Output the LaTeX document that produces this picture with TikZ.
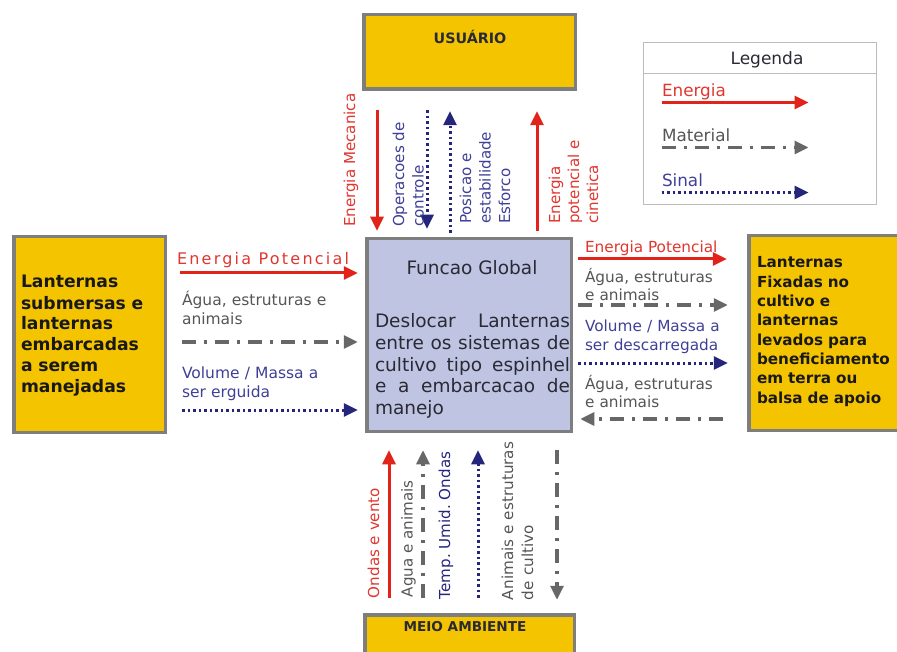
\documentclass[tikz,border=0pt]{standalone}
\usepackage{fontspec}
\setmainfont{DejaVu Sans}
\usetikzlibrary{arrows.meta}
\definecolor{ouro}{HTML}{F5C400}
\definecolor{boxgray}{HTML}{7E7E7E}
\definecolor{lav}{HTML}{BEC4E2}
\definecolor{enred}{HTML}{E2231A}
\definecolor{entxt}{HTML}{E0362F}
\definecolor{matgray}{HTML}{676767}
\definecolor{mattxt}{HTML}{555555}
\definecolor{sinnavy}{HTML}{25257C}
\definecolor{sintxt}{HTML}{3F3F98}
\definecolor{legline}{HTML}{BDBDBD}
\definecolor{darktxt}{HTML}{2A2A35}
\newcommand\jline[1]{\makebox[195pt][s]{\spaceskip=.32em plus 1fil\relax #1}}
\begin{document}
\frenchspacing
\begin{tikzpicture}[x=1pt,y=-1pt,
  box/.style={draw=boxgray, line width=3.5pt, fill=ouro, inner sep=0pt, outer sep=0pt},
  en/.style={draw=enred, line width=3pt, -{Triangle[length=14pt,width=13pt]}},
  mat/.style={draw=matgray, line width=3.2pt, dash pattern=on 14pt off 8pt on 3pt off 8pt, -{Triangle[length=14pt,width=13pt]}},
  sin/.style={draw=sinnavy, line width=3pt, dash pattern=on 2.5pt off 3pt, -{Triangle[length=14pt,width=13pt]}},
  lbl/.style={inner sep=0pt, outer sep=0pt, anchor=base west, align=left},
  lblm/.style={lbl, text width=170pt},
  rlbl/.style={lbl, rotate=90},
  rlblm/.style={lblm, rotate=90},
  fl/.style={font=\fontsize{15.5}{19}\selectfont},
  fr/.style={font=\fontsize{15.3}{18}\selectfont},
  fv/.style={font=\fontsize{15.1}{19.5}\selectfont},
]
\useasboundingbox (0,0) rectangle (897,652);
\clip (0,0) rectangle (897,652);

% boxes
\node[box, minimum width=211.5pt, minimum height=74.5pt] (usuario) at (469.5,52) {};
\node[inner sep=0pt, font=\bfseries\fontsize{14.3}{16}\selectfont, text=darktxt] (usuarioT) at (470,37) {USUÁRIO};
\node[box, minimum width=209.5pt, minimum height=56pt] (meio) at (469.5,642.75) {};
\node[inner sep=0pt, font=\bfseries\fontsize{13.6}{16}\selectfont, text=darktxt] (meioT) at (465,627) {MEIO AMBIENTE};
\node[box, minimum width=151.5pt, minimum height=195.5pt] (left) at (89.5,334.5) {};
\node[box, minimum width=164.5pt, minimum height=194.5pt] (right) at (831,333) {};
\node[box, fill=lav, minimum width=204.5pt, minimum height=192.5pt] (global) at (469,335) {};

% box texts
\node[lbl, text width=145pt, font=\bfseries\fontsize{17.2}{21}\selectfont, text=black!90] (leftT) at (21,288)
  {Lanternas\\submersas e\\lanternas\\embarcadas\\a serem\\manejadas};
\node[lbl, text width=140pt, font=\bfseries\fontsize{15.2}{19.3}\selectfont, text=black!90] (rightT) at (757,268)
  {Lanternas\\Fixadas no\\cultivo e\\lanternas\\levados para\\beneficiamento\\em terra ou\\balsa de apoio};
\node[inner sep=0pt, anchor=base, font=\fontsize{18.5}{22}\selectfont, text=darktxt] (globalT) at (472,275) {Funcao Global};
\node[lbl, text width=195pt, font=\fontsize{18.5}{22}\selectfont, text=darktxt] (globalP) at (375,327)
  {\jline{Deslocar Lanternas}\\
   \jline{entre os sistemas de}\\
   \jline{cultivo tipo espinhel}\\
   \jline{e a embarcacao de}\\
   manejo};

% legend
\node[draw=legline, line width=1pt, inner sep=0pt, minimum width=233pt, minimum height=162pt] (legenda) at (760,123.5) {};
\draw[legline, line width=1pt] ([shift={(0,31.5)}]legenda.north west) -- ([shift={(0,31.5)}]legenda.north east);
\node[inner sep=0pt, anchor=base, font=\fontsize{17}{19}\selectfont, text=darktxt] (legT) at (767,65) {Legenda};
\node[lbl, font=\fontsize{16.8}{19}\selectfont, text=entxt] (legE) at (662,97) {Energia};
\node[lbl, font=\fontsize{16.8}{19}\selectfont, text=mattxt] (legM) at (662,142) {Material};
\node[lbl, font=\fontsize{16.8}{19}\selectfont, text=sintxt] (legS) at (662,187) {Sinal};
\draw[en] ([shift={(18.5,60.5)}]legenda.north west) -- ([shift={(165.5,60.5)}]legenda.north west);
\draw[mat] ([shift={(18.5,105.5)}]legenda.north west) -- ([shift={(165.5,105.5)}]legenda.north west);
\draw[sin] ([shift={(18.5,150.5)}]legenda.north west) -- ([shift={(165.5,150.5)}]legenda.north west);

% top arrows
\draw[en]  ([shift={(-92.5,21)}]usuario.south) -- ([shift={(-92,-8)}]global.north);
\draw[sin] ([shift={(-42.5,21)}]usuario.south) -- ([shift={(-42,-10)}]global.north);
\draw[sin] ([shift={(-19,-6)}]global.north) -- ([shift={(-19.5,22)}]usuario.south);
\draw[en]  ([shift={(68,-8)}]global.north) -- ([shift={(67.5,22)}]usuario.south);
\node[rlbl, fv, text=entxt] (tEM) at (355,227) {Energia Mecanica};
\node[rlblm, fv, text=sintxt] (tOC) at (404,227) {Operacoes de\\controle};
\node[rlblm, fv, text=sintxt] (tPE) at (471,224) {Posicao e\\estabilidade\\Esforco};
\node[rlblm, fv, font=\fontsize{15.1}{19}\selectfont, text=entxt] (tEP) at (560,224) {Energia\\potencial e\\cinetica};

% bottom arrows
\draw[en]  ([shift={(-80.5,-17)}]meio.north) -- ([shift={(-80,19)}]global.south);
\draw[mat] ([shift={(-46.5,-17)}]meio.north) -- ([shift={(-46,19)}]global.south);
\draw[sin] ([shift={(8.5,-17)}]meio.north) -- ([shift={(9,19)}]global.south);
\draw[mat] ([shift={(88,19)}]global.south) -- ([shift={(87.5,-15)}]meio.north);
\node[rlbl, fv, text=entxt] (bOV) at (379,598) {Ondas e vento};
\node[rlbl, fv, text=mattxt] (bAA) at (412.5,597) {Agua e animais};
\node[rlbl, fv, text=sinnavy] (bTU) at (450,599) {Temp. Umid. Ondas};
\node[rlblm, fv, font=\fontsize{15.2}{20}\selectfont, text=mattxt] (bAE) at (513,600) {Animais e estruturas\\de cultivo};

% left arrows
\draw[en]  ([shift={(15,-61.5)}]left.east) -- ([shift={(-9,-62)}]global.west);
\draw[mat] ([shift={(17,7.5)}]left.east) -- ([shift={(-9,7)}]global.west);
\draw[sin] ([shift={(17,75.5)}]left.east) -- ([shift={(-9,75)}]global.west);
\node[lbl, font=\fontsize{16}{19}\selectfont\addfontfeature{LetterSpace=14}, text=entxt] (lEP) at (177,265) {Energia Potencial};
\node[lblm, fl, text=mattxt] (lAE) at (182,306) {Água, estruturas e\\animais};
\node[lblm, fl, text=sintxt] (lVM) at (182,378) {Volume / Massa a\\ser erguida};

% right arrows
\draw[en]  ([shift={(7,-76)}]global.east) -- ([shift={(-22,-74)}]right.west);
\draw[mat] ([shift={(7,-30)}]global.east) -- ([shift={(-21,-28)}]right.west);
\draw[sin] ([shift={(7,28)}]global.east) -- ([shift={(-21,30)}]right.west);
\draw[mat] ([shift={(-26,86)}]right.west) -- ([shift={(9,84)}]global.east);
\node[lbl, fr, text=entxt] (rEP) at (585,253) {Energia Potencial};
\node[lblm, fr, text=mattxt] (rAE1) at (585,283) {Água, estruturas\\e animais};
\node[lblm, fr, text=sintxt] (rVM) at (585,332) {Volume / Massa a\\ser descarregada};
\node[lblm, fr, text=mattxt] (rAE2) at (585,389) {Água, estruturas\\e animais};
\end{tikzpicture}
\end{document}
